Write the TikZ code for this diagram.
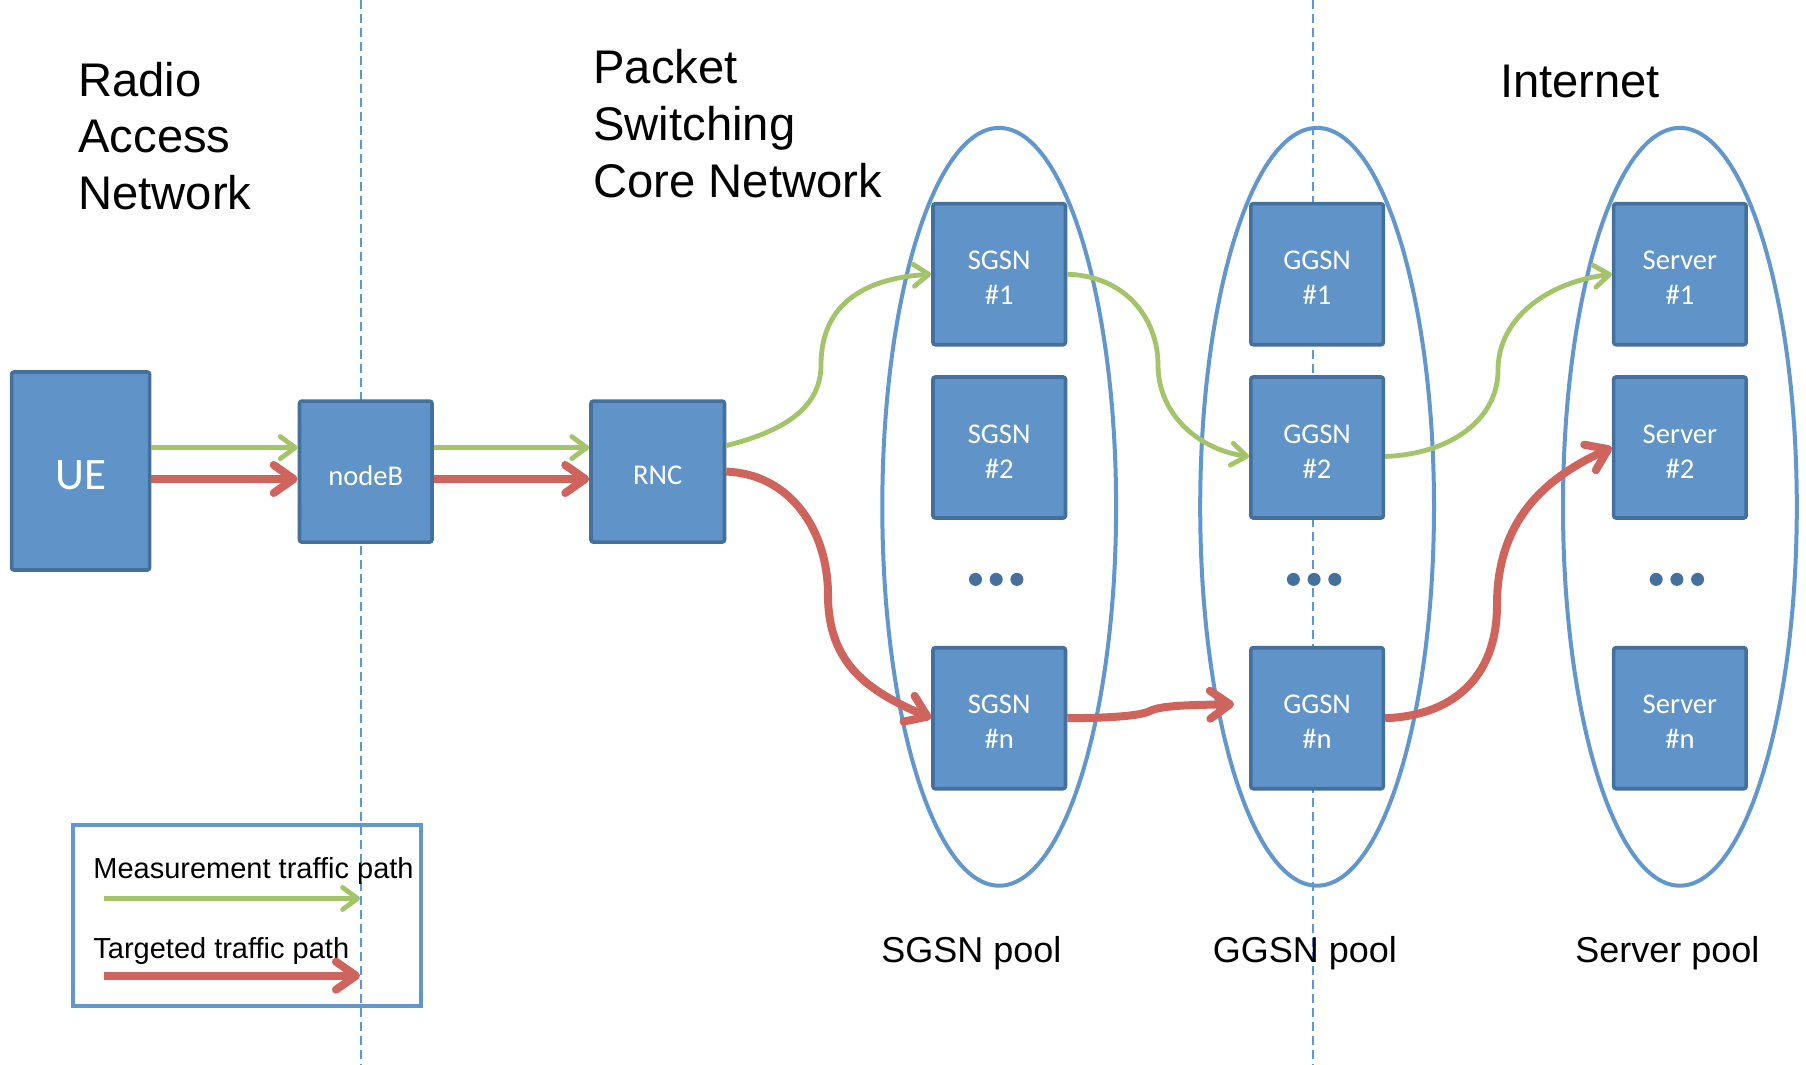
\documentclass[tikz,border=0pt]{standalone}
\usepackage{fontspec}
\setmainfont{Liberation Sans}
\newfontfamily\calibrilike{Carlito}
\usetikzlibrary{arrows.meta}
\definecolor{unitfill}{RGB}{96,148,200}
\definecolor{unitedge}{RGB}{68,112,158}
\definecolor{poolline}{RGB}{98,151,206}
\definecolor{measgreen}{RGB}{163,196,104}
\definecolor{targred}{RGB}{206,100,92}
% set a label line a little below its natural place, keeping its box size
\newcommand\dropline[1]{\raisebox{-2pt}[\height][\depth]{#1}}
\newcommand\unitlabel[2]{\dropline{#1}\\\dropline{#2}}
\begin{document}
\begin{tikzpicture}[x=0.5pt,y=-0.5pt,
  unit/.style={draw=unitedge, fill=unitfill, line width=1.8pt, rounded corners=1.2pt,
    minimum width=66.25pt, minimum height=70.5pt, inner sep=0pt, text=white,
    align=center, font=\calibrilike\fontsize{14.3}{17.5}\selectfont},
  heading/.style={anchor=base west, align=left, inner sep=0pt,
    font=\fontsize{23.6}{28.5}\selectfont},
  poollabel/.style={anchor=base west, inner sep=0pt, font=\fontsize{18}{21}\selectfont},
  legendtext/.style={anchor=base west, inner sep=0pt, font=\fontsize{14.5}{17}\selectfont},
  guide/.style={draw=poolline, line width=1pt, dash pattern=on 4.5pt off 2.5pt},
  pool/.style={draw=poolline, line width=2pt},
  meas/.style={draw=measgreen, line width=2.4pt, -{Straight Barb[length=7.5pt,width=11pt,round]}},
  targ/.style={draw=targred, line width=4pt, -{Straight Barb[length=10pt,width=14pt,round]}},
  more/.style={circle, fill=unitedge, inner sep=0pt, minimum size=6.5pt},
]
% canvas
\fill[white] (0,0) rectangle (1806,1065);
\useasboundingbox (0,0) rectangle (1806,1065);

% domain borders
\draw[guide] (360.5,0) -- (360.5,1065);
\draw[guide] (1313,0) -- (1313,1065);

% headings (anchored at the baseline of their last line)
\node[heading] (ran) at (78,210) {Radio\\Access\\Network};
\node[heading] (pscn) at (593,198) {Packet\\Switching\\Core Network};
\node[heading] (inet) at (1499.6,98) {Internet};

% pools
\draw[pool] (999.2,506.8) ellipse [x radius=58.45pt, y radius=189.45pt];
\draw[pool] (1317.1,506.8) ellipse [x radius=58.45pt, y radius=189.45pt];
\draw[pool] (1679.9,506.8) ellipse [x radius=58.45pt, y radius=189.45pt];

\node[poollabel] (sgsnpool) at (881,962) {SGSN pool};
\node[poollabel] (ggsnpool) at (1212.5,962) {GGSN pool};
\node[poollabel] (serverpool) at (1575,962) {Server pool};

% access side
\node[unit, minimum width=69pt, minimum height=99pt,
  font=\calibrilike\fontsize{22.5}{27}\selectfont] (ue) at (80.6,471) {\dropline{UE}};
\node[unit] (nodeb) at (365.75,471.6) {\dropline{nodeB}};
\node[unit, minimum width=66.75pt] (rnc) at (657.75,471.6) {\dropline{RNC}};

% SGSN column
\node[unit] (sgsn1) at (999.2,274.2) {\unitlabel{SGSN}{\#1}};
\node[unit] (sgsn2) at (999.2,447.5) {\unitlabel{SGSN}{\#2}};
\node[unit] (sgsnn) at (999.2,718.2) {\unitlabel{SGSN}{\#n}};
% GGSN column
\node[unit] (ggsn1) at (1317.1,274.2) {\unitlabel{GGSN}{\#1}};
\node[unit] (ggsn2) at (1317.1,447.5) {\unitlabel{GGSN}{\#2}};
\node[unit] (ggsnn) at (1317.1,718.2) {\unitlabel{GGSN}{\#n}};
% Server column
\node[unit] (srv1) at (1679.9,274.2) {\unitlabel{Server}{\#1}};
\node[unit] (srv2) at (1679.9,447.5) {\unitlabel{Server}{\#2}};
\node[unit] (srvn) at (1679.9,718.2) {\unitlabel{Server}{\#n}};

% ellipsis dots
\foreach \cx/\nm in {996.2/s, 1314.1/g, 1676.9/v}{
  \node[more] (\nm dot1) at (\cx-20.7,579.4) {};
  \node[more] (\nm dot2) at (\cx,579.4) {};
  \node[more] (\nm dot3) at (\cx+20.7,579.4) {};
}

% straight paths
\draw[meas] ([yshift=11.7pt]ue.east) -- ([yshift=12pt]nodeb.west);
\draw[targ] ([yshift=-4pt]ue.east) -- ([yshift=-3.7pt]nodeb.west);
\draw[meas] ([yshift=12pt]nodeb.east) -- ([yshift=12pt]rnc.west);
\draw[targ] ([yshift=-3.7pt]nodeb.east) -- ([yshift=-3.7pt]rnc.west);

% measurement traffic path
\draw[meas] ([yshift=13pt]rnc.east) .. controls (780,432) and (821,410) .. (821,365)
  .. controls (821,300) and (870,278) .. (sgsn1.west);
\draw[meas] (sgsn1.east) .. controls (1125,276) and (1158,318) .. (1158,365)
  .. controls (1158,415) and (1200,450) .. ([yshift=-4.5pt]ggsn2.west);
\draw[meas] ([yshift=-4.5pt]ggsn2.east) .. controls (1450,454) and (1498,420) .. (1498,370)
  .. controls (1498,318) and (1548,282) .. (srv1.west);

% targeted traffic path
\draw[targ] (rnc.east) .. controls (790,474) and (828,530) .. (828,595)
  .. controls (828,665) and (870,692) .. (sgsnn.west);
\draw[targ] (sgsnn.east) .. controls (1110,718) and (1140,716) .. (1150,711)
  .. controls (1162,705) and (1195,705) .. ([xshift=-7.5pt,yshift=7pt]ggsnn.west);
\draw[targ] (ggsnn.east) .. controls (1450,716) and (1497,680) .. (1497,605)
  .. controls (1497,520) and (1545,478) .. (srv2.west);

% legend
\draw[pool] (72.5,825) rectangle (421,1006);
\node[legendtext] (lgm) at (93,878.5) {Measurement traffic path};
\node[legendtext] (lgt) at (93,958.5) {Targeted traffic path};
\coordinate (lgms) at (103.5,898.5);
\coordinate (lgme) at (360,898.5);
\coordinate (lgts) at (103.5,975.7);
\coordinate (lgte) at (360,975.7);
\draw[meas] (lgms) -- (lgme);
\draw[targ] (lgts) -- (lgte);
\end{tikzpicture}
\end{document}
